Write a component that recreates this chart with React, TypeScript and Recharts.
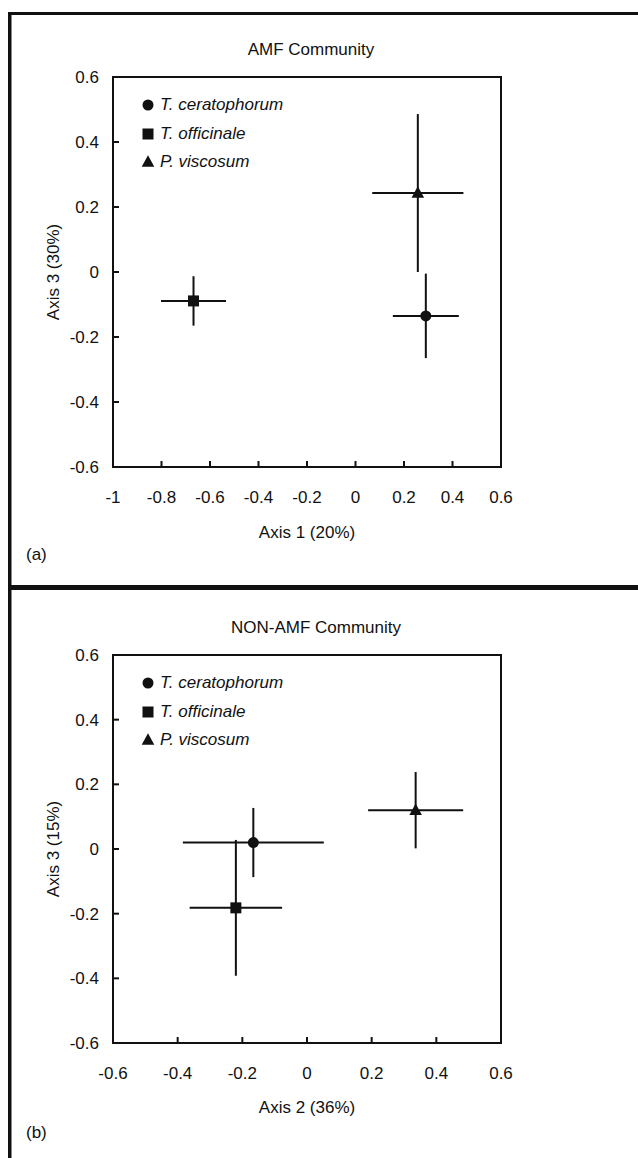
import React from 'react';
import { ScatterChart, Scatter, XAxis, YAxis, ErrorBar, ReferenceArea, Legend } from 'recharts';

// ---- data ----
const species = ['T. ceratophorum', 'T. officinale', 'P. viscosum'];
const markers = ['circle', 'square', 'triangle'];

// Panel (a) AMF community: Axis 1 vs Axis 3
const amfAxis1 = [0.29, -0.668, 0.257];
const amfAxis1Err = [0.136, 0.134, 0.188];
const amfAxis3 = [-0.135, -0.089, 0.243];
const amfAxis3Err = [0.13, 0.076, 0.243];

// Panel (b) NON-AMF community: Axis 2 vs Axis 3
const nonAxis2 = [-0.166, -0.22, 0.336];
const nonAxis2Err = [0.218, 0.143, 0.147];
const nonAxis3 = [0.02, -0.182, 0.12];
const nonAxis3Err = [0.107, 0.21, 0.118];

const amfXTicks = [-1, -0.8, -0.6, -0.4, -0.2, 0, 0.2, 0.4, 0.6];
const nonXTicks = [-0.6, -0.4, -0.2, 0, 0.2, 0.4, 0.6];
const yTicks = [-0.6, -0.4, -0.2, 0, 0.2, 0.4, 0.6];

const FONT = '"Liberation Sans", Arial, sans-serif';
const INK = '#111';
const TEXT = '#111';

function Marker({ kind, cx, cy }: { kind: string; cx: number; cy: number }) {
  if (kind === 'circle') return <circle cx={cx} cy={cy} r={5.5} fill={INK} />;
  if (kind === 'square') return <rect x={cx - 5.5} y={cy - 5.5} width={11} height={11} fill={INK} />;
  return <polygon points={`${cx},${cy - 6.8} ${cx - 6.3},${cy + 4.8} ${cx + 6.3},${cy + 4.8}`} fill={INK} />;
}

function LegendBox() {
  return (
    <div style={{ fontFamily: FONT, fontSize: 17, color: TEXT, fontStyle: 'italic' }}>
      {species.map((s, i) => (
        <div key={s} style={{ height: 28.5, display: 'flex', alignItems: 'center', whiteSpace: 'nowrap' }}>
          <svg width={12} height={14} style={{ marginRight: 6, overflow: 'visible' }}>
            <Marker kind={markers[i]} cx={6} cy={7} />
          </svg>
          <span>{s}</span>
        </div>
      ))}
    </div>
  );
}

function buildRows(xs: number[], xe: number[], ys: number[], ye: number[]) {
  return species.map((s, i) => [{ name: s, x: xs[i], y: ys[i], ex: xe[i], ey: ye[i] }]);
}

const tickStyle = { fontSize: 17, fill: TEXT, fontFamily: FONT };

function Panel({ rows, xTicks, height, bottom }: { rows: any[]; xTicks: number[]; height: number; bottom: number }) {
  const xMin = xTicks[0];
  const xMax = xTicks[xTicks.length - 1];
  return (
    <ScatterChart width={638} height={height} margin={{ top: 77, right: 137, left: 53, bottom }}>
      <XAxis
        type="number"
        dataKey="x"
        domain={[xMin, xMax]}
        ticks={xTicks}
        allowDataOverflow
        height={30}
        tickSize={-6}
        tickMargin={30}
        tick={tickStyle}
        axisLine={{ stroke: INK, strokeWidth: 2 }}
        tickLine={{ stroke: INK, strokeWidth: 2 }}
        interval={0}
      />
      <YAxis
        type="number"
        dataKey="y"
        domain={[-0.6, 0.6]}
        ticks={yTicks}
        allowDataOverflow
        width={60}
        tickSize={-6}
        tickMargin={20}
        tick={tickStyle}
        axisLine={{ stroke: INK, strokeWidth: 2 }}
        tickLine={{ stroke: INK, strokeWidth: 2 }}
        interval={0}
      />
      <ReferenceArea x1={xMin} x2={xMax} y1={-0.6} y2={0.6} fill="none" fillOpacity={0} stroke={INK} strokeWidth={2} />
      {rows.map((data, i) => (
        <Scatter
          key={species[i]}
          name={species[i]}
          data={data}
          fill={INK}
          isAnimationActive={false}
          shape={(p: any) => <Marker kind={markers[i]} cx={p.cx} cy={p.cy} />}
        >
          <ErrorBar dataKey="ex" direction="x" width={0} stroke={INK} strokeWidth={2} />
          <ErrorBar dataKey="ey" direction="y" width={0} stroke={INK} strokeWidth={2} />
        </Scatter>
      ))}
      <Legend
        layout="vertical"
        align="center"
        verticalAlign="middle"
        content={() => <LegendBox />}
        wrapperStyle={{ left: 142, top: 91, width: 200, height: 86 }}
      />
    </ScatterChart>
  );
}

export default function App() {
  const amfRows = buildRows(amfAxis1, amfAxis1Err, amfAxis3, amfAxis3Err);
  const nonRows = buildRows(nonAxis2, nonAxis2Err, nonAxis3, nonAxis3Err);
  const txt = { fontFamily: FONT, fontSize: 17, fill: TEXT } as const;
  return (
    <div style={{ position: 'absolute', left: 0, top: 0, width: 638, height: 1158, background: '#fff', overflow: 'hidden' }}>
      <div style={{ position: 'absolute', left: 0, top: 0 }}>
        <Panel rows={amfRows} xTicks={amfXTicks} height={585} bottom={88} />
      </div>
      <div style={{ position: 'absolute', left: 0, top: 578 }}>
        <Panel rows={nonRows} xTicks={nonXTicks} height={580} bottom={85} />
      </div>
      <svg width={638} height={1158} style={{ position: 'absolute', left: 0, top: 0, pointerEvents: 'none' }}>
        <rect x={8} y={12} width={630} height={3} fill={INK} />
        <rect x={8} y={12} width={3.5} height={1146} fill={INK} />
        <rect x={8} y={585} width={630} height={5} fill={INK} />
        <text x={311} y={55} textAnchor="middle" {...txt}>AMF Community</text>
        <text x={307} y={538} textAnchor="middle" {...txt}>Axis 1 (20%)</text>
        <text x={59} y={272} textAnchor="middle" transform="rotate(-90 59 272)" {...txt}>Axis 3 (30%)</text>
        <text x={26} y={560} {...txt}>(a)</text>
        <text x={316} y={633} textAnchor="middle" {...txt}>NON-AMF Community</text>
        <text x={307} y={1113} textAnchor="middle" {...txt}>Axis 2 (36%)</text>
        <text x={59} y={849} textAnchor="middle" transform="rotate(-90 59 849)" {...txt}>Axis 3 (15%)</text>
        <text x={26} y={1138} {...txt}>(b)</text>
      </svg>
    </div>
  );
}
